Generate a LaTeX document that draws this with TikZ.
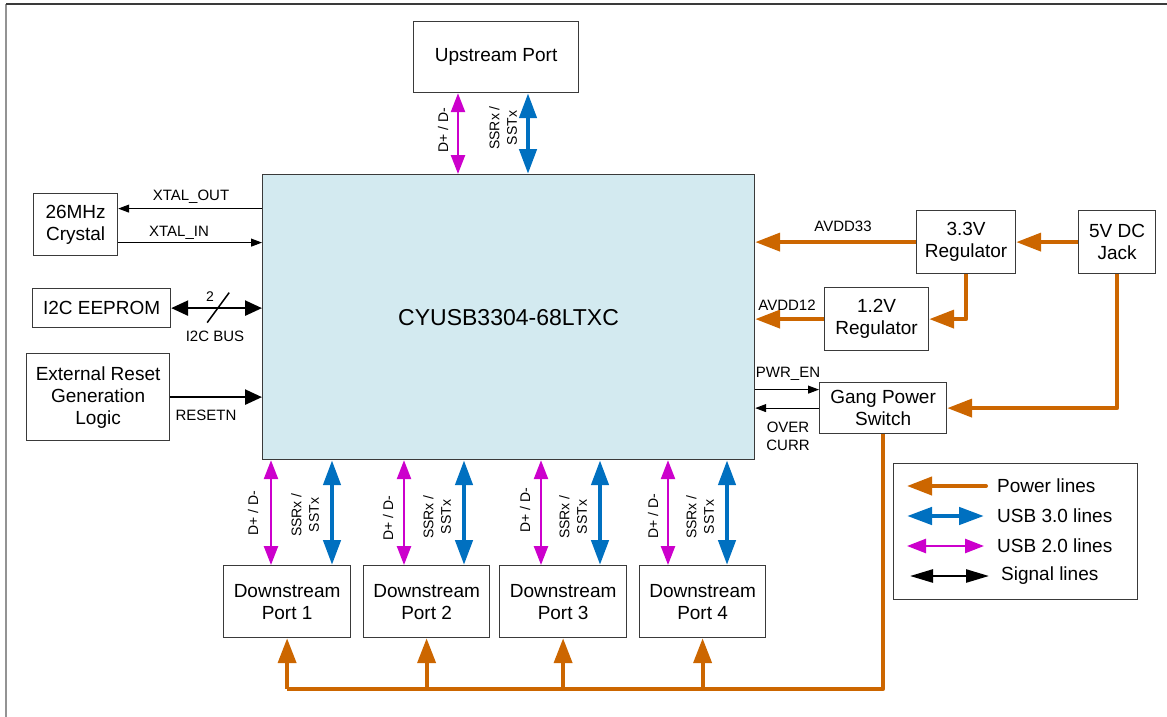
\documentclass[tikz,border=0pt]{standalone}
\usepackage{fontspec}
\setmainfont{Liberation Sans}
\usetikzlibrary{arrows.meta}
\definecolor{pwrc}{HTML}{CC6600}
\definecolor{usbthree}{HTML}{0070C0}
\definecolor{usbtwo}{HTML}{CC00CC}
\definecolor{chipc}{HTML}{D3EAF0}
\definecolor{edgec}{HTML}{3A3A3A}
\begin{document}
\begin{tikzpicture}[x=1pt,y=-1pt,
  box/.style={draw=edgec, line width=1.2pt, fill=white, align=center, inner sep=0pt, anchor=north west, font=\fontsize{19}{22}\selectfont},
  lbl/.style={font=\fontsize{15}{18}\selectfont, inner sep=0pt, align=center},
  rlbl/.style={font=\fontsize{14}{17.5}\selectfont, inner sep=0pt, rotate=90, align=center},
  leg/.style={font=\fontsize{19}{22}\selectfont, inner sep=0pt, anchor=west},
  pwr/.style={draw=pwrc, line width=4pt, line join=round, -{Triangle[length=25pt,width=18pt]}},
  pwrline/.style={draw=pwrc, line width=4pt, line join=round},
  usbiii/.style={draw=usbthree, line width=4.5pt, {Triangle[length=25pt,width=17pt]}-{Triangle[length=25pt,width=17pt]}},
  usbii/.style={draw=usbtwo, line width=2.5pt, {Triangle[length=19pt,width=14pt]}-{Triangle[length=19pt,width=14pt]}},
  sigthick/.style={draw=black, line width=2.5pt},
  sigthin/.style={draw=black, line width=1pt, -{Triangle[length=11pt,width=8pt]}}
]
\useasboundingbox (0,0) rectangle (1167,717);
% outer frame
\draw[draw=gray!85, line width=2pt] (6,717) -- (6,4);
\draw[draw=edgec, line width=1.6pt] (6,4) -- (1167,4);

% boxes
\node[box, minimum width=165pt, minimum height=71pt] (up) at (413,21) {Upstream Port};
\node[box, fill=chipc, minimum width=492pt, minimum height=285pt, font=\fontsize{23}{27}\selectfont] (chip) at (262,174) {CYUSB3304-68LTXC};
\node[box, minimum width=84pt, minimum height=62pt] (xtal) at (33,193) {26MHz\\Crystal};
\node[box, minimum width=138pt, minimum height=39pt] (ee) at (32,288) {I2C EEPROM};
\node[box, minimum width=143pt, minimum height=87pt] (ext) at (26,353) {External Reset\\Generation\\Logic};
\node[box, minimum width=99pt, minimum height=63pt] (r33) at (916,210) {3.3V\\Regulator};
\node[box, minimum width=77pt, minimum height=63pt] (jack) at (1078,210) {5V DC\\Jack};
\node[box, minimum width=104pt, minimum height=63pt] (r12) at (824,287) {1.2V\\Regulator};
\node[box, minimum width=127pt, minimum height=51pt] (gps) at (819,382) {Gang Power\\Switch};
\node[box, minimum width=127pt, minimum height=72pt] (p1) at (223,565) {Downstream\\Port 1};
\node[box, minimum width=126pt, minimum height=72pt] (p2) at (363,565) {Downstream\\Port 2};
\node[box, minimum width=127pt, minimum height=72pt] (p3) at (499,565) {Downstream\\Port 3};
\node[box, minimum width=126pt, minimum height=72pt] (p4) at (639,565) {Downstream\\Port 4};
\node[box, minimum width=244pt, minimum height=136pt] (legend) at (893,463) {};

% upstream connections
\coordinate (um) at ([xshift=45pt]up.south west);
\coordinate (ub) at ([xshift=115pt]up.south west);
\draw[usbii] (um) -- (um |- chip.north);
\draw[usbiii] (ub) -- (ub |- chip.north);
\node[rlbl] (ulD) at (443,130) {D+ / D-};
\node[rlbl] (ulS) at (503,128) {SSRx /\\SSTx};

% crystal
\coordinate (xo) at ([yshift=16pt]xtal.east);
\coordinate (xi) at ([yshift=-18pt]xtal.east);
\draw[sigthin] (xo -| chip.west) -- (xo);
\draw[sigthin] (xi) -- (xi -| chip.west);
\node[lbl] (lxo) at (191,197) {XTAL\_OUT};
\node[lbl] (lxi) at (179,233) {XTAL\_IN};

% I2C
\draw[sigthick, {Triangle[length=17pt,width=15pt]}-{Triangle[length=17pt,width=15pt]}] (ee.east) -- (ee.east -| chip.west);
\draw[black, line width=1.5pt] ([shift={(36pt,-14.5pt)}]ee.east) -- ([shift={(58pt,15.5pt)}]ee.east);
\node[font=\fontsize{14}{16}\selectfont, inner sep=0pt] (ltwo) at (210,297) {2};
\node[lbl] (li2c) at (215,336) {I2C BUS};

% reset
\draw[sigthick, -{Triangle[length=17pt,width=15pt]}] (ext.east) -- (ext.east -| chip.west);
\node[lbl] (lrst) at (206,415) {RESETN};

% power right side
\draw[pwr] (jack.west) -- (r33.east);
\draw[pwr] (r33.west) -- (r33.west -| chip.east);
\draw[pwr] (r33.south) |- (r12.east);
\draw[pwr] (r12.west) -- (r12.west -| chip.east);
\draw[pwr] (jack.south) |- (gps.east);
\node[lbl] (lav33) at (843,226) {AVDD33};
\node[lbl] (lav12) at (787,305) {AVDD12};

% gang switch signals
\coordinate (pe) at ([yshift=18.5pt]gps.west);
\draw[sigthin] (pe -| chip.east) -- (pe);
\draw[sigthin] (gps.west) -- (gps.west -| chip.east);
\node[lbl] (lpe) at (788,374) {PWR\_EN};
\node[lbl, font=\fontsize{15}{18}\selectfont] (loc) at (788,436) {OVER\\CURR};

% downstream USB
\coordinate (d1m) at ([xshift=48pt]p1.north west);
\coordinate (d1b) at ([xshift=109pt]p1.north west);
\coordinate (d2m) at ([xshift=41pt]p2.north west);
\coordinate (d2b) at ([xshift=101pt]p2.north west);
\coordinate (d3m) at ([xshift=42pt]p3.north west);
\coordinate (d3b) at ([xshift=101pt]p3.north west);
\coordinate (d4m) at ([xshift=29pt]p4.north west);
\coordinate (d4b) at ([xshift=88pt]p4.north west);
\foreach \m/\b in {d1m/d1b, d2m/d2b, d3m/d3b, d4m/d4b} {
  \draw[usbii] (\m |- chip.south) -- (\m);
  \draw[usbiii] (\b |- chip.south) -- (\b);
}
\node[rlbl] (l1D) at (253,513) {D+ / D-};
\node[rlbl] (l1S) at (305,515) {SSRx /\\SSTx};
\node[rlbl] (l2D) at (388,518) {D+ / D-};
\node[rlbl] (l2S) at (437,517) {SSRx /\\SSTx};
\node[rlbl] (l3D) at (525,510) {D+ / D-};
\node[rlbl] (l3S) at (573,517) {SSRx /\\SSTx};
\node[rlbl] (l4D) at (653,516) {D+ / D-};
\node[rlbl] (l4S) at (700,517) {SSRx /\\SSTx};

% power bus
\coordinate (bus) at (0,689);
\draw[pwrline] (gps.south) -- (gps.south |- bus) -- (p1.south |- bus);
\foreach \p in {p1,p2,p3,p4} {
  \draw[pwr] (\p.south |- bus) -- (\p.south);
}

% legend
\coordinate (lg1a) at (986,486); \coordinate (lg1b) at (907,486);
\coordinate (lg2a) at (907,516); \coordinate (lg2b) at (984,516);
\coordinate (lg3a) at (907,546); \coordinate (lg3b) at (984,546);
\coordinate (lg4a) at (910,576); \coordinate (lg4b) at (989,576);
\draw[pwr, line cap=round] (lg1a) -- (lg1b);
\draw[usbiii] (lg2a) -- (lg2b);
\draw[usbii] (lg3a) -- (lg3b);
\draw[sigthick, {Triangle[length=23pt,width=13pt]}-{Triangle[length=23pt,width=13pt]}] (lg4a) -- (lg4b);
\node[leg] (t1) at (997,486) {Power lines};
\node[leg] (t2) at (997,516) {USB 3.0 lines};
\node[leg] (t3) at (997,546) {USB 2.0 lines};
\node[leg] (t4) at (1001,576) {Signal lines};
\end{tikzpicture}
\end{document}
